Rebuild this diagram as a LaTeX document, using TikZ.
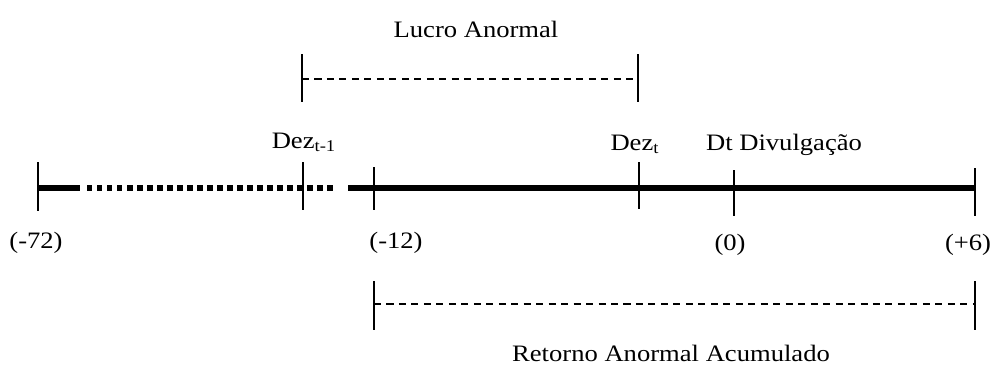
\documentclass[tikz,border=0pt]{standalone}
\usepackage{fontspec}
\setmainfont{Liberation Serif}
\usetikzlibrary{positioning}
\newcommand{\stretchtxt}[1]{\scalebox{1.13}[1]{#1}}
\tikzset{
  tllabel/.style={font=\fontsize{13.4}{15}\selectfont, text=black,
    inner sep=0pt, anchor=base},
  axisline/.style={line width=3.1pt},
  axisdots/.style={line width=3.1pt, dash pattern=on 3.1pt off 2.6pt},
  tickline/.style={line width=1pt},
  spanline/.style={line width=.7pt, dash pattern=on 4pt off 3.1pt}
}
\begin{document}
\begin{tikzpicture}[x=.02cm, y=-.02cm]
\path[use as bounding box] (0,0) rectangle (993,365);

\coordinate (m72) at (38,188);
\coordinate (dzA) at (303,188);
\coordinate (m12) at (374,188);
\coordinate (dzB) at (639,188);
\coordinate (zero) at (734,188);
\coordinate (p6) at (975,188);
\coordinate (solidEnd) at (80,188);
\coordinate (dotsIn) at (87,188);
\coordinate (dotsOut) at (336,188);
\coordinate (solidIn) at (348,188);

\draw[axisline] (m72) -- (solidEnd);
\draw[axisdots] (dotsIn) -- (dotsOut);
\draw[axisline] (solidIn) -- (p6);

\draw[tickline] (m72) ++(0,-26) -- ++(0,49);
\draw[tickline] (dzA) ++(0,-26) -- ++(0,48);
\draw[tickline] (m12) ++(0,-21) -- ++(0,43);
\draw[tickline] (dzB) ++(0,-26) -- ++(0,47);
\draw[tickline] (zero) ++(0,-18) -- ++(0,46);
\draw[tickline] (p6) ++(0,-20) -- ++(0,48);

\coordinate (laL) at (302,79);
\coordinate (laR) at (638,79);
\draw[spanline] (laL) -- (laR);
\draw[tickline] (laL) ++(0,-25) -- ++(0,48);
\draw[tickline] (laR) ++(0,-25) -- ++(0,48);

\coordinate (raL) at (374,304);
\coordinate (raR) at (975,304);
\draw[spanline] (raL) -- (raR);
\draw[tickline] (raL) ++(0,-23) -- ++(0,49);
\draw[tickline] (raR) ++(0,-23) -- ++(0,49);

\node[tllabel] (lucro) at (476,37) {\stretchtxt{Lucro Anormal}};
\node[tllabel] (lblDezA) at (304,148) {\stretchtxt{Dez\textsubscript{t-1}}};
\node[tllabel] (lblDezB) at (635,150) {\stretchtxt{Dez\textsubscript{t}}};
\node[tllabel] (lblDiv) at (784,150) {\stretchtxt{Dt Divulgação}};
\node[tllabel] (lbl72) at (36,248) {\stretchtxt{(-72)}};
\node[tllabel] (lbl12) at (396,248) {\stretchtxt{(-12)}};
\node[tllabel] (lbl0) at (730,250) {\stretchtxt{(0)}};
\node[tllabel] (lbl6) at (968,250) {\stretchtxt{(+6)}};
\node[tllabel] (retorno) at (671,361) {\stretchtxt{Retorno Anormal Acumulado}};
\end{tikzpicture}
\end{document}
